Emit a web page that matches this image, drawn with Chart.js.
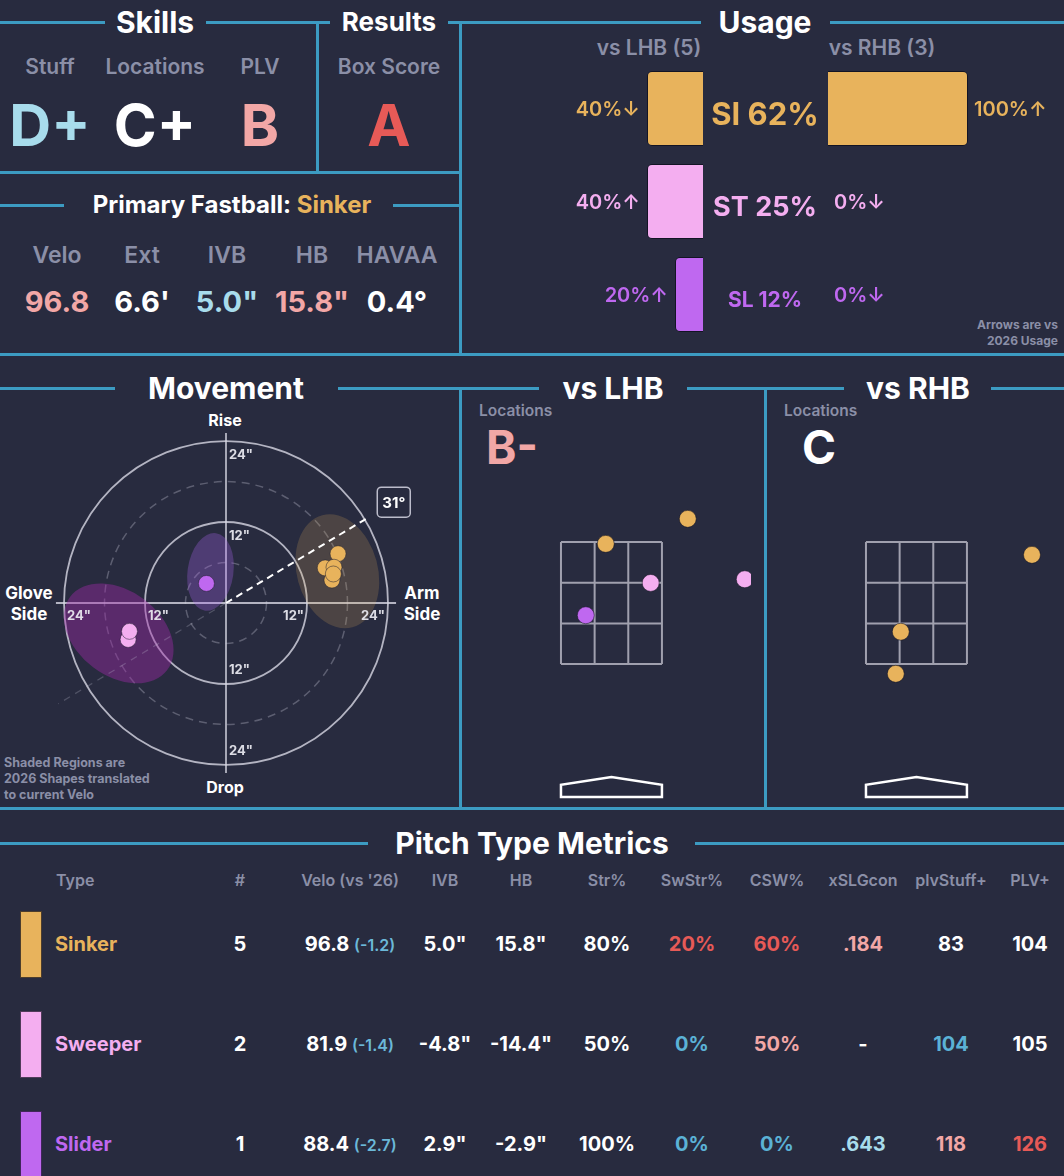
<!DOCTYPE html>
<html><head><meta charset="utf-8">
<script src="https://cdn.jsdelivr.net/npm/chart.js@4.4.1/dist/chart.umd.min.js"></script>
<style>
html,body{margin:0;padding:0;background:#282b3f;}
body{width:1064px;height:1176px;position:relative;overflow:hidden;font-family:Inter,"Noto Sans",sans-serif;color:#fff;}
.t,.l,.r{position:absolute;line-height:1;white-space:nowrap;}
.t{transform:translate(-50%,-50%);}
.l{transform:translate(0,-50%);}
.r{transform:translate(-100%,-50%);}
.hl{position:absolute;height:3px;background:#3c9bc2;}
.vl{position:absolute;width:3px;background:#3c9bc2;}
.sw{position:absolute;box-sizing:border-box;border:1px solid rgba(10,12,25,0.7);}
canvas{position:absolute;}
</style></head><body>
<script>
// ---------------- DATA ----------------
const pitchCodes = ['SI','ST','SL'];
const pitchNames = ['Sinker','Sweeper','Slider'];
const usageAll = [62,25,12];
const usageLHB = [40,40,20];
const usageRHB = [100,0,0];
const arrowLHB = ['↓','↑','↑'];
const arrowRHB = ['↑','↓','↓'];
const batterCounts = [5,3];

const skillLabels = ['Stuff','Locations','PLV'];
const skillGrades = ['D+','C+','B'];
const resultLabel = 'Box Score';
const resultGrade = 'A';
const primaryFastball = 'Sinker';
const fbLabels = ['Velo','Ext','IVB','HB','HAVAA'];
const fbValues = ['96.8',"6.6'",'5.0"','15.8"','0.4°'];

// movement (inches)
const sinkerHB  = [16.6,14.7,16.0,15.7,15.9];
const sinkerIVB = [7.3,5.2,5.3,3.4,4.3];
const sweeperHB  = [-14.5,-14.3];
const sweeperIVB = [-5.4,-4.2];
const sliderHB  = [-2.9];
const sliderIVB = [2.9];
const shapeCenterHB  = [16.5,-15.9,-2.3];
const shapeCenterIVB = [4.7,-4.5,4.6];
const shapeAxisA = [6.0,9.0,3.4];
const shapeAxisB = [8.6,6.3,5.8];
const shapeTilt  = [15,-37,-8];
const armAngle = 31;
const ringInches = [6,12,18,24];
const ringLabelInches = [12,24];

// locations (feet)
const lhbPlateX = [1.07,-0.08,0.55,1.87,-0.36];
const lhbPlateZ = [3.88,3.47,2.83,2.89,2.30];
const lhbPitch  = [0,0,1,1,2];
const rhbPlateX = [1.62,-0.22,-0.29];
const rhbPlateZ = [3.29,2.03,1.34];
const rhbPitch  = [0,0,0];
const locGrades = ['B-','C'];
const zoneX = [-0.708,0.708];
const zoneZ = [1.5,3.5];
const plateX = [-0.708,-0.708,0,0.708,0.708];
const plateZ = [-0.68,-0.48,-0.35,-0.48,-0.68];

// table
const tableHeaders = ['Type','#',"Velo (vs '26)",'IVB','HB','Str%','SwStr%','CSW%','xSLGcon','plvStuff+','PLV+'];
const counts = [5,2,1];
const velo = [96.8,81.9,88.4];
const veloDiff = [-1.2,-1.4,-2.7];
const ivb = [5.0,-4.8,2.9];
const hb = [15.8,-14.4,-2.9];
const strPct = [80,50,100];
const swStrPct = [20,0,0];
const cswPct = [60,50,0];
const xslgCon = ['.184','-','.643'];
const plvStuff = [83,104,118];
const plvPlus = [104,105,126];

// ---------------- STYLE ----------------
const BG='#282b3f', GRAY='#8b8fa7';
const GOLD='#e8b35c', PINK='#f4aef0', PURPLE='#bf68f0';
const LBLUE='#a8dcec', SALMON='#f2a7a6', RED='#e75a57', TBLUE='#5bb2d6', WHITE='#ffffff';
const pitchColors=[GOLD,PINK,PURPLE];
const skillColors=[LBLUE,WHITE,SALMON];
const fbColors=[SALMON,WHITE,LBLUE,SALMON,WHITE];
const shapeFill=['rgba(232,179,92,0.19)','rgba(160,40,170,0.42)','rgba(170,100,235,0.30)'];
const usageCenterSize=[31,27,21];
const locGradeColors=[SALMON,WHITE];
const swStrColor=[RED,TBLUE,TBLUE], cswColor=[RED,SALMON,TBLUE], xslgColor=[SALMON,WHITE,LBLUE],
      plvStuffColor=[WHITE,TBLUE,SALMON], plvColor=[WHITE,WHITE,RED];

Chart.defaults.font.family='Inter';

function txt(s,x,y,size,color,cls,w){const d=document.createElement('div');d.className=cls||'t';d.textContent=s;
  d.style.left=x+'px';d.style.top=y+'px';d.style.fontSize=size+'px';d.style.fontWeight=w||700;d.style.color=color||WHITE;
  document.body.appendChild(d);return d;}
function hline(x1,x2,y){const d=document.createElement('div');d.className='hl';d.style.left=x1+'px';d.style.width=(x2-x1)+'px';d.style.top=(y-1.5)+'px';document.body.appendChild(d);}
function vline(x,y1,y2){const d=document.createElement('div');d.className='vl';d.style.left=(x-1.5)+'px';d.style.top=y1+'px';d.style.height=(y2-y1)+'px';document.body.appendChild(d);}
function mkCanvas(x,y,w,h){const c=document.createElement('canvas');c.width=w;c.height=h;c.style.left=x+'px';c.style.top=y+'px';c.style.width=w+'px';c.style.height=h+'px';document.body.appendChild(c);return c;}

// ---------------- FRAME LINES ----------------
hline(0,105,22);hline(206,330,22);hline(448,701,22);hline(830,1064,22);
vline(317,22,172);vline(460,22,355);
hline(0,460,172);
hline(0,64,205);hline(393,460,205);
hline(0,1064,354);
hline(0,115,388);hline(338,539,388);hline(687,844,388);hline(991,1064,388);
vline(460,388,808);vline(765,388,808);
hline(0,1064,808);
hline(0,368,843);hline(695,1064,843);

// ---------------- TOP LEFT ----------------
txt('Skills',155,22,30);
txt('Results',389,22,26);
txt('Usage',765,22,30);
const skillX=[50,155,260];
skillLabels.forEach((s,i)=>txt(s,skillX[i],66,21,GRAY,'t',600));
skillGrades.forEach((s,i)=>txt(s,skillX[i],125,58,skillColors[i]));
txt(resultLabel,389,66,21,GRAY,'t',600);
txt(resultGrade,389,125,58,RED);
const pf=txt('',232,205,24);pf.innerHTML='Primary Fastball: <span style="color:'+GOLD+'">'+primaryFastball+'</span>';
const fbX=[57,142,227,312,397];
fbLabels.forEach((s,i)=>txt(s,fbX[i],255,23,GRAY,'t',600));
fbValues.forEach((s,i)=>txt(s,fbX[i],301,29,fbColors[i]));

// ---------------- USAGE ----------------
txt('vs LHB ('+batterCounts[0]+')',649,47,21,GRAY,'t',600);
txt('vs RHB ('+batterCounts[1]+')',882,47,21,GRAY,'t',600);
function usageChart(canvas,values,reverse){
  return new Chart(canvas,{type:'bar',
    data:{labels:pitchCodes,datasets:[{data:values,backgroundColor:pitchColors,
      borderColor:'rgba(12,14,28,0.75)',borderWidth:c=>c.raw>0?1:0,borderRadius:5,borderSkipped:'start',
      barPercentage:0.806,categoryPercentage:1}]},
    options:{indexAxis:'y',responsive:false,animation:false,events:[],layout:{padding:0,autoPadding:false},
      plugins:{legend:{display:false},tooltip:{enabled:false}},
      scales:{x:{display:false,min:0,max:100,reverse:reverse},y:{display:false}}}});
}
const UL={x:563,y:62,w:140,h:279}, UR={x:828,y:62,w:140,h:279};
const lhbUse=usageChart(mkCanvas(UL.x,UL.y,UL.w,UL.h),usageLHB,true);
const rhbUse=usageChart(mkCanvas(UR.x,UR.y,UR.w,UR.h),usageRHB,false);
pitchCodes.forEach((c,i)=>{
  const yL=UL.y+lhbUse.scales.y.getPixelForValue(i);
  const xL=UL.x+lhbUse.scales.x.getPixelForValue(usageLHB[i]);
  txt(usageLHB[i]+'%'+arrowLHB[i],xL-7,yL,20,pitchColors[i],'r',600);
  const xR=UR.x+rhbUse.scales.x.getPixelForValue(usageRHB[i]);
  txt(usageRHB[i]+'%'+arrowRHB[i],xR+6,yL,20,pitchColors[i],'l',600);
  txt(c+' '+usageAll[i]+'%',765,yL+4,usageCenterSize[i],pitchColors[i]);
});
txt('Arrows are vs',1058,325,12,GRAY,'r',700);
txt('2026 Usage',1058,341,12,GRAY,'r',700);

// ---------------- MOVEMENT ----------------
txt('Movement',226,388,30);
txt('Rise',225,420,16);
txt('Drop',225,787,16);
txt('Glove',29,593,17);txt('Side',29,614,17);
txt('Arm',422,593,17);txt('Side',422,614,17);
txt('Shaded Regions are',4,763,12.5,GRAY,'l',700);
txt('2026 Shapes translated',4,779,12.5,GRAY,'l',700);
txt('to current Velo',4,795,12.5,GRAY,'l',700);

const MV_R=27.56, AXIS_EXT=25.2;
const mvPlugin={id:'mv',beforeDatasetsDraw(chart){
  const {ctx,scales:{x,y}}=chart;
  const cx=x.getPixelForValue(0), cy=y.getPixelForValue(0), k=x.getPixelForValue(1)-cx;
  ctx.save();
  ringInches.forEach(r=>{
    ctx.beginPath();ctx.arc(cx,cy,r*k,0,Math.PI*2);
    if(r%12){ctx.setLineDash([8,6]);ctx.strokeStyle='rgba(200,200,215,0.33)';ctx.lineWidth=1.5;}
    else{ctx.setLineDash([]);ctx.strokeStyle='rgba(215,215,228,0.8)';ctx.lineWidth=1.8;}
    ctx.stroke();
  });
  ctx.setLineDash([]);ctx.strokeStyle='rgba(215,215,228,0.8)';ctx.lineWidth=1.8;
  ctx.beginPath();
  ctx.moveTo(x.getPixelForValue(-AXIS_EXT),cy);ctx.lineTo(x.getPixelForValue(AXIS_EXT),cy);
  ctx.moveTo(cx,y.getPixelForValue(AXIS_EXT));ctx.lineTo(cx,y.getPixelForValue(-AXIS_EXT));
  ctx.stroke();
  // shapes
  shapeCenterHB.forEach((h,i)=>{
    ctx.beginPath();
    ctx.ellipse(x.getPixelForValue(h),y.getPixelForValue(shapeCenterIVB[i]),shapeAxisA[i]*k,shapeAxisB[i]*k,-shapeTilt[i]*Math.PI/180,0,Math.PI*2);
    ctx.fillStyle=shapeFill[i];ctx.fill();
  });
  // arm angle
  const a=armAngle*Math.PI/180;
  ctx.setLineDash([7,6]);ctx.strokeStyle='rgba(200,200,215,0.25)';ctx.lineWidth=1.3;
  ctx.beginPath();ctx.moveTo(cx,cy);ctx.lineTo(x.getPixelForValue(-29*Math.cos(a)),y.getPixelForValue(-29*Math.sin(a)));ctx.stroke();
  ctx.setLineDash([7,5]);ctx.strokeStyle='#ffffff';ctx.lineWidth=2;
  ctx.beginPath();ctx.moveTo(cx,cy);ctx.lineTo(x.getPixelForValue(24.7*Math.cos(a)),y.getPixelForValue(24.7*Math.sin(a)));ctx.stroke();
  ctx.setLineDash([]);
  // ring labels
  ctx.font='700 13px Inter';ctx.fillStyle='rgba(235,235,242,0.92)';ctx.textBaseline='middle';
  ringLabelInches.forEach(r=>{
    const rp=r*k, lab=r+'"';
    ctx.textAlign='left';
    ctx.fillText(lab,cx+3,cy-rp+14);
    ctx.fillText(lab,cx+3,cy+rp-14);
    ctx.fillText(lab,cx-rp+3,cy+13);
    ctx.textAlign='right';
    ctx.fillText(lab,cx+rp-3,cy+13);
  });
  // angle box
  const bx=x.getPixelForValue(29*Math.cos(a)), by=y.getPixelForValue(29*Math.sin(a));
  ctx.beginPath();ctx.roundRect(bx-16.5,by-15,33,30,4);ctx.fillStyle=BG;ctx.fill();
  ctx.strokeStyle='rgba(215,215,228,0.85)';ctx.lineWidth=1.5;ctx.stroke();
  ctx.fillStyle='#fff';ctx.font='700 15px Inter';ctx.textAlign='center';ctx.fillText(armAngle+'°',bx,by+1);
  ctx.restore();
}};
const ptStyle=(c)=>({backgroundColor:c,borderColor:'rgba(30,30,45,0.5)',borderWidth:1,pointRadius:8,pointHoverRadius:8});
new Chart(mkCanvas(40,417,372,372),{type:'scatter',
  data:{datasets:[
    Object.assign({data:sinkerHB.map((v,i)=>({x:v,y:sinkerIVB[i]}))},ptStyle(GOLD)),
    Object.assign({data:sweeperHB.map((v,i)=>({x:v,y:sweeperIVB[i]}))},ptStyle(PINK)),
    Object.assign({data:sliderHB.map((v,i)=>({x:v,y:sliderIVB[i]}))},ptStyle(PURPLE))]},
  options:{responsive:false,animation:false,events:[],layout:{padding:0,autoPadding:false},
    plugins:{legend:{display:false},tooltip:{enabled:false}},
    scales:{x:{display:false,min:-MV_R,max:MV_R},y:{display:false,min:-MV_R,max:MV_R}}},
  plugins:[mvPlugin]});

// ---------------- LOCATIONS ----------------
txt('vs LHB',613,388,30);
txt('vs RHB',918,388,30);
txt('Locations',479,411,15.5,GRAY,'l',600);
txt('Locations',784,411,15.5,GRAY,'l',600);
txt(locGrades[0],486,447,46,locGradeColors[0],'l');
txt(locGrades[1],802,447,46,locGradeColors[1],'l');

const zonePlugin={id:'zone',beforeDatasetsDraw(chart){
  const {ctx,scales:{x,y}}=chart;
  ctx.save();
  ctx.strokeStyle='rgba(200,200,212,0.75)';ctx.lineWidth=2;
  const w=(zoneX[1]-zoneX[0])/3, h=(zoneZ[1]-zoneZ[0])/3;
  ctx.beginPath();
  for(let i=0;i<4;i++){
    const px=x.getPixelForValue(zoneX[0]+i*w);
    ctx.moveTo(px,y.getPixelForValue(zoneZ[0]));ctx.lineTo(px,y.getPixelForValue(zoneZ[1]));
    const py=y.getPixelForValue(zoneZ[0]+i*h);
    ctx.moveTo(x.getPixelForValue(zoneX[0]),py);ctx.lineTo(x.getPixelForValue(zoneX[1]),py);
  }
  ctx.stroke();
  ctx.strokeStyle='#ffffff';ctx.lineWidth=2.5;ctx.lineJoin='miter';
  ctx.beginPath();
  plateX.forEach((v,i)=>{const px=x.getPixelForValue(v),py=y.getPixelForValue(plateZ[i]);i?ctx.lineTo(px,py):ctx.moveTo(px,py);});
  ctx.closePath();ctx.stroke();
  ctx.restore();
}};
function locChart(canvas,xs,zs,pt){
  return new Chart(canvas,{type:'scatter',
    data:{datasets:[{data:xs.map((v,i)=>({x:v,y:zs[i]})),backgroundColor:pt.map(p=>pitchColors[p]),
      borderColor:'rgba(20,20,35,0.55)',borderWidth:1,pointRadius:8.5,pointHoverRadius:8.5}]},
    options:{responsive:false,animation:false,events:[],layout:{padding:0,autoPadding:false},
      plugins:{legend:{display:false},tooltip:{enabled:false}},
      scales:{x:{display:false,min:-2.11,max:1.957},y:{display:false,min:-0.81,max:5.91}}},
    plugins:[zonePlugin]});
}
locChart(mkCanvas(461,395,290,410),lhbPlateX,lhbPlateZ,lhbPitch);
locChart(mkCanvas(766,395,290,410),rhbPlateX,rhbPlateZ,rhbPitch);

// ---------------- TABLE ----------------
txt('Pitch Type Metrics',532,843,30);
const colX=[56,240,350,445,521,607,692,777,863,951,1030];
tableHeaders.forEach((h,i)=>txt(h,colX[i],880,16,GRAY,i?'t':'l',600));
const rowY=[944,1044,1144];
const f1=v=>v.toFixed(1);
pitchNames.forEach((n,r)=>{
  const y=rowY[r];
  const s=document.createElement('div');s.className='sw';s.style.left='20px';s.style.width='22px';
  s.style.top=(y-33)+'px';s.style.height='67px';s.style.background=pitchColors[r];document.body.appendChild(s);
  txt(n,55,y,20,pitchColors[r],'l');
  txt(String(counts[r]),colX[1],y,20);
  const v=txt('',colX[2],y,20);v.innerHTML=f1(velo[r])+' <span style="font-size:16px;font-weight:600;color:#6bb8d8">('+f1(veloDiff[r])+')</span>';
  txt(f1(ivb[r])+'"',colX[3],y,20);
  txt(f1(hb[r])+'"',colX[4],y,20);
  txt(strPct[r]+'%',colX[5],y,20);
  txt(swStrPct[r]+'%',colX[6],y,20,swStrColor[r]);
  txt(cswPct[r]+'%',colX[7],y,20,cswColor[r]);
  txt(xslgCon[r],colX[8],y,20,xslgColor[r]);
  txt(String(plvStuff[r]),colX[9],y,20,plvStuffColor[r]);
  txt(String(plvPlus[r]),colX[10],y,20,plvColor[r]);
});
</script>
</body></html>
